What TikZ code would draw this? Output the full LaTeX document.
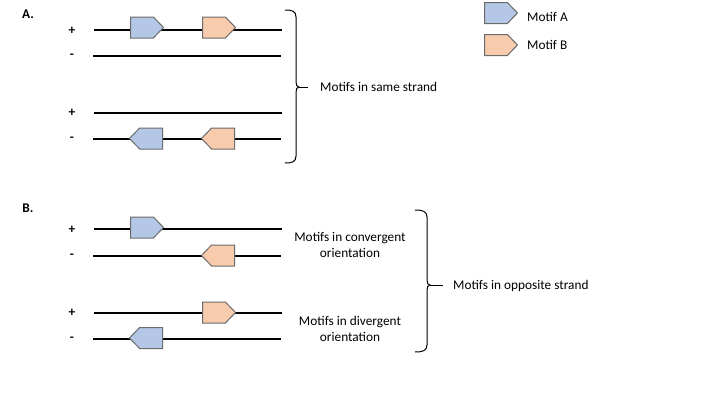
\documentclass[tikz,border=0pt]{standalone}
\usepackage{fontspec}
\setmainfont{Carlito}
\usetikzlibrary{shapes.symbols}
\definecolor{motA}{HTML}{B4C7E7}
\definecolor{motB}{HTML}{F8CBAD}
\definecolor{motE}{HTML}{6B6B6B}
\tikzset{
  strand/.style={line width=2pt},
  motif/.style={shape=signal, draw=motE, line width=1pt, minimum width=33pt, minimum height=21pt, inner sep=0pt, signal pointer angle=92},
  fwd/.style={motif, signal to=east, anchor=west},
  rev/.style={motif, signal to=west, anchor=east},
  lbl/.style={font=\fontsize{13.3}{16}\selectfont, inner sep=0pt},
  sign/.style={font=\fontsize{13.3}{16}\selectfont\bfseries, inner sep=0pt},
  bracel/.style={line width=1pt},
}
\begin{document}
\begin{tikzpicture}[x=1pt,y=-1pt]
\useasboundingbox (0,0) rectangle (720,405);
% ---------------- Part A
\node[sign] (labA) at (28,14) {A.};
\node[sign] (pA1) at (72,31) {+};
\node[sign] (mA1) at (72,56) {-};
\node[sign] (pA2) at (72,113) {+};
\node[sign] (mA2) at (72,139) {-};
\coordinate (a1s) at (94,30); \coordinate (a1e) at (282,30);
\coordinate (a2s) at (93,56); \coordinate (a2e) at (281,56);
\coordinate (a3s) at (94,113); \coordinate (a3e) at (282,113);
\coordinate (a4s) at (93,139); \coordinate (a4e) at (281,139);
\draw[strand] (a1s) -- (a1e);
\draw[strand] (a2s) -- (a2e);
\draw[strand] (a3s) -- (a3e);
\draw[strand] (a4s) -- (a4e);
\node[fwd, fill=motA] (A1a) at (130,27.5) {};
\node[fwd, fill=motB] (A1b) at (202,27.5) {};
\node[rev, fill=motA] (A4a) at (163,138.5) {};
\node[rev, fill=motB] (A4b) at (235,138.5) {};
% brace A
\draw[bracel] (285,10) .. controls (292,10) and (296,11) .. (296,17)
  -- (296,82) .. controls (296,85) and (297,87) .. (299,87)
  .. controls (297,87) and (296,89) .. (296,92)
  -- (296,156) .. controls (296,162) and (292,163) .. (285,163);
\coordinate (brA) at (299,87);
\node[lbl, anchor=west] (txA) at (320,87) {Motifs in same strand};
\draw[bracel] (brA) -- (308,87);
% ---------------- Legend
\node[fwd, fill=motA] (legA) at (484,13) {};
\node[fwd, fill=motB] (legB) at (484,45) {};
\node[lbl, anchor=west] (legAt) at (527,17) {Motif A};
\node[lbl, anchor=west] (legBt) at (527,45) {Motif B};
% ---------------- Part B
\node[sign] (labB) at (28,208) {B.};
\node[sign] (pB1) at (72,230) {+};
\node[sign] (mB1) at (72,256) {-};
\node[sign] (pB2) at (72,313) {+};
\node[sign] (mB2) at (72,339) {-};
\coordinate (b1s) at (94,229); \coordinate (b1e) at (282,229);
\coordinate (b2s) at (93,256); \coordinate (b2e) at (281,256);
\coordinate (b3s) at (94,313); \coordinate (b3e) at (282,313);
\coordinate (b4s) at (93,339); \coordinate (b4e) at (281,339);
\draw[strand] (b1s) -- (b1e);
\draw[strand] (b2s) -- (b2e);
\draw[strand] (b3s) -- (b3e);
\draw[strand] (b4s) -- (b4e);
\node[fwd, fill=motA] (B1a) at (130,227.5) {};
\node[rev, fill=motB] (B2b) at (235,255.5) {};
\node[fwd, fill=motB] (B3b) at (202,312.5) {};
\node[rev, fill=motA] (B4a) at (163,338) {};
\node[lbl, align=center] (conv) at (350,244.5) {Motifs in convergent\\orientation};
\node[lbl, align=center] (div) at (350,329) {Motifs in divergent\\orientation};
% brace B
\draw[bracel] (415,210) .. controls (422,210) and (427,211) .. (427,217)
  -- (427,280) .. controls (427,283) and (428,285) .. (430,285)
  .. controls (428,285) and (427,287) .. (427,290)
  -- (427,345) .. controls (427,351) and (422,352) .. (415,352);
\coordinate (brB) at (430,285);
\node[lbl, anchor=west] (txB) at (453,286) {Motifs in opposite strand};
\draw[bracel] (brB) -- (443,285);
\end{tikzpicture}
\end{document}
